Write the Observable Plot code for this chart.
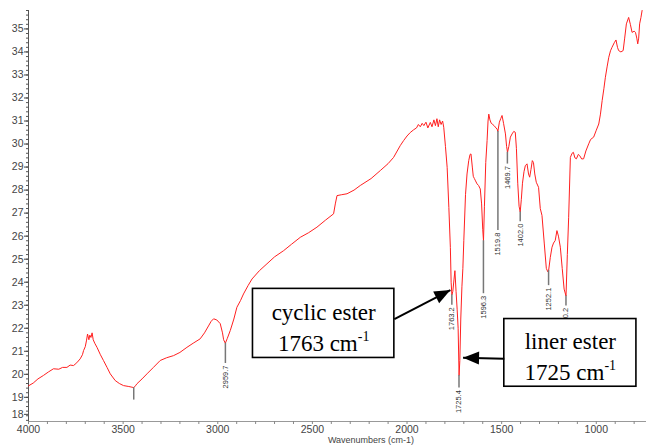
<!DOCTYPE html>
<html><head><meta charset="utf-8">
<script src="https://cdn.jsdelivr.net/npm/d3@7"></script>
<script src="https://cdn.jsdelivr.net/npm/@observablehq/plot@0.6"></script>
<style>body{margin:0;background:#fff}</style>
</head><body><div id="chart"></div>
<script>
// Spectrum: wavenumber (cm-1) and transmittance
const wavenumbers = [4000,3975,3950,3921,3895,3868,3840,3820,3797,3780,3762,3745,3727,3715,3709,3700,3694,3688,3681,3676,3670,3664,3658,3650,3638,3620,3604,3585,3568,3542,3520,3498,3470,3453,3444,3435,3427,3400,3374,3340,3304,3270,3234,3200,3163,3130,3093,3070,3049,3035,3022,3005,2987,2975,2969,2960,2950,2934,2915,2899,2880,2864,2840,2819,2780,2740,2700,2652,2610,2564,2520,2476,2430,2388,2379,2370,2345,2317,2280,2247,2190,2141,2100,2071,2036,2018,2000,1983,1965,1950,1940,1930,1920,1911,1900,1890,1877,1868,1858,1850,1842,1835,1828,1820,1812,1806,1797,1788,1779,1771,1767,1763,1758,1752,1747,1741,1735,1730,1725,1721,1716,1710,1705,1700,1691,1683,1674,1667,1662,1655,1650,1644,1638,1630,1622,1613,1606,1600,1596,1591,1584,1577,1572,1568,1562,1555,1550,1540,1530,1524,1520,1512,1505,1498,1490,1480,1474,1469,1462,1454,1445,1436,1428,1422,1415,1408,1402,1396,1390,1382,1375,1366,1358,1352,1345,1338,1332,1325,1317,1305,1296,1287,1275,1264,1256,1252,1243,1234,1226,1217,1208,1200,1190,1180,1170,1160,1153,1146,1137,1128,1121,1113,1105,1095,1088,1077,1067,1055,1040,1030,1014,1000,987,978,969,960,952,943,934,925,917,905,896,888,882,870,858,850,841,829,820,811,800,793,786,781,776,771,764,758];
const transmittance = [19.5,19.62,19.8,19.95,20.1,20.24,20.22,20.3,20.3,20.4,20.38,20.5,20.67,20.85,21.03,21.2,21.45,21.75,21.5,21.7,21.6,21.8,21.5,21.35,21.17,20.85,20.6,20.3,20.02,19.73,19.6,19.51,19.47,19.44,19.42,19.5,19.59,19.8,20.02,20.3,20.6,20.72,20.81,20.95,21.17,21.35,21.54,21.8,22.1,22.3,22.41,22.36,22.2,21.8,21.5,21.35,21.55,21.9,22.4,22.91,23.2,23.49,23.85,24.14,24.5,24.8,25.1,25.37,25.65,25.95,26.15,26.39,26.7,26.97,27.4,27.76,27.8,27.84,28.0,28.2,28.5,28.85,29.15,29.42,29.93,30.15,30.35,30.5,30.62,30.7,30.85,30.75,30.9,30.8,30.95,30.7,30.94,30.75,31.05,30.8,31.1,30.75,31.05,30.85,31.0,30.73,29.9,28.99,27.25,25.5,24.0,23.45,23.6,24.1,24.5,23.6,22.8,22.0,19.95,20.6,22.4,23.8,24.6,25.8,27.8,28.7,29.28,29.55,29.57,29.0,28.6,28.5,28.4,28.27,28.2,28.05,27.4,26.3,25.8,27.3,29.2,30.15,31.0,31.3,31.05,30.9,30.87,30.8,30.7,30.65,30.55,30.95,31.1,31.24,30.9,30.44,29.9,29.64,29.9,30.3,30.44,30.55,30.51,29.8,28.3,27.3,27.05,27.6,28.3,28.8,29.06,29.14,28.7,28.56,28.9,29.28,29.2,28.7,28.34,28.12,27.2,26.9,25.7,24.6,24.45,24.5,25.08,25.52,25.7,25.81,26.24,26.0,25.52,24.6,23.7,23.4,25.2,26.82,29.42,29.6,29.64,29.4,29.36,29.55,29.5,29.35,29.36,29.7,30.01,30.2,30.3,30.6,30.87,31.3,31.89,32.4,32.9,33.35,33.77,34.05,34.2,34.4,34.52,34.2,34.06,34.0,34.06,34.6,35.22,35.5,35.2,34.85,34.9,34.85,34.6,34.35,34.6,35.22,35.5,35.8];

// Peak picks
const peakWn = [3444, 2959.7, 1763.2, 1725.4, 1596.3, 1519.8, 1469.7, 1402.0, 1252.1, 1160.2];
const peakLabels = ["", "2959.7", "1763.2", "1725.4", "1596.3", "1519.8", "1469.7", "1402.0", "1252.1", "1160.2"];
const peakTop = [19.42, 21.35, 23.45, 19.95, 25.8, 30.55, 29.64, 27.05, 24.5, 23.4];
const peakEnd = [18.88, 20.47, 23.0, 19.4, 23.5, 26.24, 29.13, 26.63, 23.85, 22.97];

// Axis ticks
const xTicks = [4000, 3500, 3000, 2500, 2000, 1500, 1000];
const xMinorTicks = d3.range(800, 4001, 100);
const yTicks = d3.range(19, 36);
const yBottomTick = [18];
const yMinorTicks = d3.range(0, 90).map(i => 18 + i * 0.2);

// Annotations
const boxText = ["cyclic ester\n1763 cm-1", "liner ester\n1725 cm-1"];
const boxX1 = [2814, 1486], boxX2 = [2067, 788];
const boxY1 = [23.71, 22.4], boxY2 = [20.71, 19.46];
const boxTextY = [22.12, 20.84];
const arrowX1 = [2067, 1486], arrowY1 = [22.4, 20.68];
const arrowX2 = [1771, 1704], arrowY2 = [23.66, 20.72];

const spectrum = wavenumbers.map((w, i) => ({wn: w, t: transmittance[i]}));
const peaks = peakWn.map((w, i) => ({wn: w, label: peakLabels[i], top: peakTop[i], end: peakEnd[i]}));
const boxes = boxText.map((s, i) => ({text: s, x1: boxX1[i], x2: boxX2[i], y1: boxY1[i], y2: boxY2[i], ty: boxTextY[i], tx: (boxX1[i] + boxX2[i]) / 2}));
const arrows = arrowX1.map((x, i) => ({x1: x, y1: arrowY1[i], x2: arrowX2[i], y2: arrowY2[i]}));

const svg = Plot.plot({
  width: 648, height: 447,
  marginLeft: 28, marginRight: 3, marginTop: 10, marginBottom: 26,
  x: {domain: [4000, 740]},
  y: {domain: [17.95, 35.8]},
  style: {fontFamily: "Liberation Sans, Arial, sans-serif", fontSize: "10.5px", color: "#444", background: "#fff", overflow: "visible"},
  marks: [
    Plot.frame({anchor: "bottom", stroke: "#999"}),
    Plot.frame({anchor: "left", stroke: "#555", strokeDasharray: "1,1"}),
    Plot.axisX({ticks: xMinorTicks, tickSize: 3, tickFormat: () => "", label: null, stroke: "#888"}),
    Plot.axisX({ticks: xTicks, tickSize: 0, tickPadding: 4, tickFormat: d => String(d), label: null, fill: "#444"}),
    Plot.axisY({ticks: yMinorTicks, tickSize: 2, tickFormat: () => "", label: null, stroke: "#555"}),
    Plot.axisY({ticks: yTicks, tickSize: 4, tickPadding: 1, label: null, stroke: "#444", fill: "#444"}),
    Plot.axisY({ticks: yBottomTick, tickSize: 4, tickPadding: 1, label: null, stroke: "#444", fill: "#444", dy: -6}),
    Plot.text(["Wavenumbers (cm-1)"], {text: d => d, frameAnchor: "bottom", dy: 21, dx: 34, fontSize: 9, fill: "#444"}),
    Plot.line(spectrum, {x: "wn", y: "t", stroke: "#ff2020", strokeWidth: 1}),
    Plot.ruleX(peaks, {x: "wn", y1: "top", y2: "end", stroke: "#777", strokeWidth: 1.5}),
    Plot.text(peaks.filter(d => d.label), {x: "wn", y: "end", text: "label", rotate: -90, textAnchor: "end", dy: 2, fontSize: 7.5, fill: "#333"}),
    Plot.rect(boxes, {x1: "x1", x2: "x2", y1: "y1", y2: "y2", fill: "white", stroke: "black", strokeWidth: 1.6}),
    Plot.link(arrows, {x1: "x1", y1: "y1", x2: "x2", y2: "y2", stroke: "black", strokeWidth: 2}),
    Plot.text(boxes, {x: "tx", y: "ty", text: "text", fontFamily: "Liberation Serif, Times New Roman, serif", fontSize: 23, lineHeight: 1.33, fill: "black"})
  ]
});

// Filled arrowheads
const s = d3.select(svg);
s.append("defs").append("marker")
  .attr("id", "ah").attr("markerUnits", "userSpaceOnUse")
  .attr("viewBox", "-17 -7 18 14").attr("refX", 0).attr("refY", 0)
  .attr("markerWidth", 18).attr("markerHeight", 14).attr("orient", "auto")
  .append("path").attr("d", "M0,0L-16,-6.5L-16,6.5Z").attr("fill", "black");
s.selectAll('g[aria-label="link"] path').attr("marker-end", "url(#ah)");

// Superscript "-1"
s.selectAll('g[aria-label="text"] text').each(function() {
  const kids = this.querySelectorAll("tspan");
  const nodes = kids.length ? Array.from(kids) : [this];
  nodes.forEach(n => {
    const t = n.textContent;
    if (t.endsWith("cm-1") && !t.startsWith("Wave")) {
      n.textContent = t.slice(0, -2);
      d3.select(n).append("tspan").attr("dy", "-0.7em").attr("font-size", "14px").text("-1");
    }
  });
});

document.getElementById("chart").appendChild(svg);
</script>
</body></html>
